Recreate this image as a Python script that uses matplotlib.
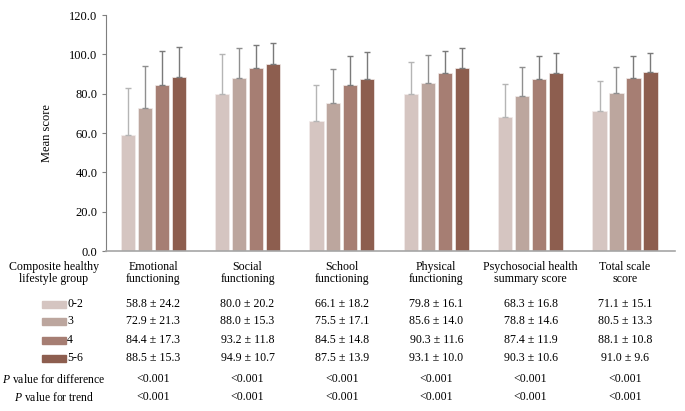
import numpy as np
import matplotlib.pyplot as plt
import matplotlib.transforms as mtransforms
from matplotlib.patches import Rectangle

# === Données ===
domains = ["Emotional\nfunctioning", "Social\nfunctioning", "School\nfunctioning",
           "Physical\nfunctioning", "Psychosocial health\nsummary score", "Total scale\nscore"]
groups = ["0-2", "3", "4", "5-6"]
means = [
    [58.8, 80.0, 66.1, 79.8, 68.3, 71.1],
    [72.9, 88.0, 75.5, 85.6, 78.8, 80.5],
    [84.4, 93.2, 84.5, 90.3, 87.4, 88.1],
    [88.5, 94.9, 87.5, 93.1, 90.3, 91.0],
]
sds = [
    [24.2, 20.2, 18.2, 16.1, 16.8, 15.1],
    [21.3, 15.3, 17.1, 14.0, 14.6, 13.3],
    [17.3, 11.8, 14.8, 11.6, 11.9, 10.8],
    [15.3, 10.7, 13.9, 10.0, 10.6, 9.6],
]
p_diff = ["<0.001"] * 6
p_trend = ["<0.001"] * 6
yticks = [0, 20, 40, 60, 80, 100, 120]

# === Style ===
colors = ["#d5c5c1", "#bca69e", "#a67e73", "#8d5e4f"]
err_colors = ["#b5b5b5", "#8f8f8f", "#7a7a7a", "#7a7a7a"]
FS = 8.6
plt.rcParams['font.family'] = ['Liberation Serif', 'DejaVu Serif']
plt.rcParams['mathtext.fontset'] = 'custom'
plt.rcParams['mathtext.rm'] = 'Liberation Serif'
plt.rcParams['mathtext.it'] = 'Liberation Serif:italic'

W, H = 685, 411
fig = plt.figure(figsize=(W / 100, H / 100), dpi=100)
ax = fig.add_axes([106 / W, 1 - 251 / H, (675 - 106) / W, (251 - 15) / H])

x = np.arange(len(domains))
step, width = 0.18, 0.15
for j, g in enumerate(groups):
    pos = x + (j - 1.5) * step
    ax.bar(pos, means[j], width=width, color=colors[j], edgecolor="#f2eceb",
           linewidth=0.5, zorder=2)
    ax.errorbar(pos, means[j], yerr=[np.zeros(len(x)), sds[j]], fmt="none",
                ecolor=err_colors[j], elinewidth=1.0, capsize=2.2, capthick=1.0, zorder=3)

ax.set_xlim(-0.5, 5.53)
ax.set_ylim(0, 120)
ax.set_yticks(yticks)
ax.set_yticklabels([f"{v:.1f}" for v in yticks], fontsize=9)
ax.set_xticks([])
ax.set_ylabel("Mean score", fontsize=9, labelpad=12)
for s in ["top", "right"]:
    ax.spines[s].set_visible(False)
ax.spines["left"].set_color("#7f7f7f")
ax.spines["bottom"].set_color("#a6a6a6")
ax.spines["bottom"].set_linewidth(1.2)
ax.tick_params(axis="y", direction="out", length=3, color="#7f7f7f", pad=3)

# === Tableau sous le graphique ===
trans = mtransforms.blended_transform_factory(ax.transData, fig.transFigure)
def fy(py):
    return 1 - py / H

fig.text(54 / W, fy(273), "Composite healthy\nlifestyle group", ha="center", va="center",
         fontsize=FS, linespacing=1.1)
for i, d in enumerate(domains):
    fig.text(x[i], fy(273), d, transform=trans, ha="center", va="center",
             fontsize=FS, linespacing=1.1)

row_y = [304, 321, 340, 358]
for j, g in enumerate(groups):
    fig.patches.append(Rectangle((42 / W, fy(row_y[j] + 3.5)), 24 / W, 7 / H,
                                 transform=fig.transFigure, color=colors[j]))
    fig.text(67 / W, fy(row_y[j]), g, ha="left", va="center", fontsize=FS)
    for i in range(len(domains)):
        fig.text(x[i], fy(row_y[j]), f"{means[j][i]:.1f} ± {sds[j][i]:.1f}",
                 transform=trans, ha="center", va="center", fontsize=FS)

fig.text(54 / W, fy(379), "$P$ value for difference", ha="center", va="center", fontsize=8.4)
fig.text(54 / W, fy(397), "$P$ value for trend", ha="center", va="center", fontsize=8.4)
for i in range(len(domains)):
    fig.text(x[i], fy(379), p_diff[i], transform=trans, ha="center", va="center", fontsize=FS)
    fig.text(x[i], fy(397), p_trend[i], transform=trans, ha="center", va="center", fontsize=FS)

fig.savefig("out.png", dpi=100)
